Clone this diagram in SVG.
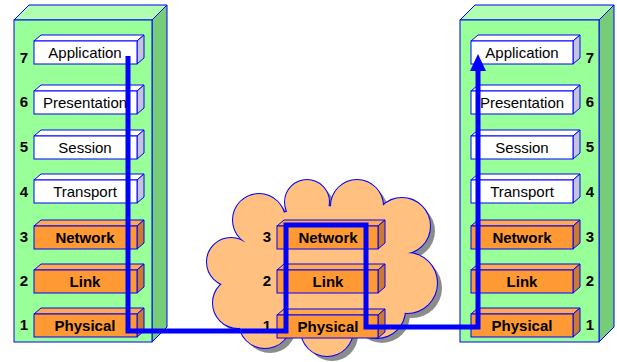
<svg xmlns="http://www.w3.org/2000/svg" width="617" height="362" viewBox="0 0 617 362">
<style>
.st{stroke:#0000FF;stroke-width:1}
.sf{fill:#99FF99}.stop{fill:#B0FFB0}.sside{fill:#77CC77}
.wf{fill:#FFFFFF}.wtop{fill:#FFFFFF}.wside{fill:#C4C4DC}
.of{fill:#FF9933}.otop{fill:#FFAA4C}.oside{fill:#CC7A2E}
.lbl{font-family:"Liberation Sans",Arial,sans-serif;font-size:15px;fill:#000;text-anchor:middle}
.b{font-weight:bold}
.num{font-family:"Liberation Sans",Arial,sans-serif;font-size:15px;font-weight:bold;fill:#000;text-anchor:middle}
.path{fill:none;stroke:#0000FF;stroke-width:5;stroke-linejoin:miter}
</style>
<defs>
<g id="cloudShape">
<circle cx="259" cy="220" r="26"/>
<circle cx="307" cy="202" r="22"/>
<circle cx="357" cy="206" r="26"/>
<circle cx="402" cy="226" r="28"/>
<circle cx="407" cy="283" r="30"/>
<circle cx="377" cy="310" r="28"/>
<circle cx="327" cy="330" r="26"/>
<circle cx="265" cy="322" r="26"/>
<circle cx="238" cy="303" r="25"/>
<circle cx="231" cy="262" r="24"/>
<ellipse cx="322" cy="268" rx="85" ry="62"/>
</g>
</defs>

<g id="left-stack">
<polygon class="stop st" points="14,20 29,5 167,5 152,20"/>
<polygon class="sside st" points="152,20 167,5 167,327 152,342"/>
<rect class="sf st" x="14" y="20" width="138" height="322"/>
</g>
<g id="right-stack">
<polygon class="stop st" points="460,20 475,5 614,5 599,20"/>
<polygon class="sside st" points="599,20 614,5 614,327 599,342"/>
<rect class="sf st" x="460" y="20" width="139" height="322"/>
</g>

<g id="cloud">
<g fill="#8C8C8C" transform="translate(5,5)"><use href="#cloudShape"/></g>
<g fill="#FFC080" stroke="#0000FF" stroke-width="2"><use href="#cloudShape"/></g>
<g fill="#FFC080"><use href="#cloudShape"/></g>
</g>

<!-- left layers -->
<g id="L7"><polygon class="wtop st" points="34,41 41,35 144,35 137,41"/><polygon class="wside st" points="137,41 144,35 144,58 137,64"/><rect class="wf st" x="34" y="41" width="103" height="23"/><text class="lbl" x="85" y="58">Application</text><text class="num" x="24" y="63">7</text></g>
<g id="L6"><polygon class="wtop st" points="34,91 41,85 144,85 137,91"/><polygon class="wside st" points="137,91 144,85 144,108 137,114"/><rect class="wf st" x="34" y="91" width="103" height="23"/><text class="lbl" x="85" y="108">Presentation</text><text class="num" x="24" y="107">6</text></g>
<g id="L5"><polygon class="wtop st" points="34,136 41,130 144,130 137,136"/><polygon class="wside st" points="137,136 144,130 144,153 137,159"/><rect class="wf st" x="34" y="136" width="103" height="23"/><text class="lbl" x="85" y="153">Session</text><text class="num" x="24" y="152">5</text></g>
<g id="L4"><polygon class="wtop st" points="34,180 41,174 144,174 137,180"/><polygon class="wside st" points="137,180 144,174 144,197 137,203"/><rect class="wf st" x="34" y="180" width="103" height="23"/><text class="lbl" x="85" y="197">Transport</text><text class="num" x="24" y="197">4</text></g>
<g id="L3"><polygon class="otop st" points="34,226 41,220 144,220 137,226"/><polygon class="oside st" points="137,226 144,220 144,243 137,249"/><rect class="of st" x="34" y="226" width="103" height="23"/><text class="lbl b" x="85" y="243">Network</text><text class="num" x="24" y="242">3</text></g>
<g id="L2"><polygon class="otop st" points="34,270 41,264 144,264 137,270"/><polygon class="oside st" points="137,270 144,264 144,287 137,293"/><rect class="of st" x="34" y="270" width="103" height="23"/><text class="lbl b" x="85" y="287">Link</text><text class="num" x="24" y="286">2</text></g>
<g id="L1"><polygon class="otop st" points="34,314 41,308 144,308 137,314"/><polygon class="oside st" points="137,314 144,308 144,331 137,337"/><rect class="of st" x="34" y="314" width="103" height="23"/><text class="lbl b" x="85" y="331">Physical</text><text class="num" x="24" y="330">1</text></g>

<!-- middle layers -->
<g id="M3"><polygon class="otop st" points="277,226 284,220 385,220 378,226"/><polygon class="oside st" points="378,226 385,220 385,243 378,249"/><rect class="of st" x="277" y="226" width="101" height="23"/><text class="lbl b" x="328" y="243">Network</text><text class="num" x="267" y="242">3</text></g>
<g id="M2"><polygon class="otop st" points="277,270 284,264 385,264 378,270"/><polygon class="oside st" points="378,270 385,264 385,287 378,293"/><rect class="of st" x="277" y="270" width="101" height="23"/><text class="lbl b" x="328" y="287">Link</text><text class="num" x="267" y="286">2</text></g>
<g id="M1"><polygon class="otop st" points="277,315 284,309 385,309 378,315"/><polygon class="oside st" points="378,315 385,309 385,332 378,338"/><rect class="of st" x="277" y="315" width="101" height="23"/><text class="lbl b" x="328" y="332">Physical</text><text class="num" x="267" y="331">1</text></g>

<!-- right layers -->
<g id="R7"><polygon class="wtop st" points="471,41 478,35 580,35 573,41"/><polygon class="wside st" points="573,41 580,35 580,58 573,64"/><rect class="wf st" x="471" y="41" width="102" height="23"/><text class="lbl" x="522" y="58">Application</text><text class="num" x="590" y="63">7</text></g>
<g id="R6"><polygon class="wtop st" points="471,91 478,85 580,85 573,91"/><polygon class="wside st" points="573,91 580,85 580,108 573,114"/><rect class="wf st" x="471" y="91" width="102" height="23"/><text class="lbl" x="522" y="108">Presentation</text><text class="num" x="590" y="107">6</text></g>
<g id="R5"><polygon class="wtop st" points="471,136 478,130 580,130 573,136"/><polygon class="wside st" points="573,136 580,130 580,153 573,159"/><rect class="wf st" x="471" y="136" width="102" height="23"/><text class="lbl" x="522" y="153">Session</text><text class="num" x="590" y="152">5</text></g>
<g id="R4"><polygon class="wtop st" points="471,180 478,174 580,174 573,180"/><polygon class="wside st" points="573,180 580,174 580,197 573,203"/><rect class="wf st" x="471" y="180" width="102" height="23"/><text class="lbl" x="522" y="197">Transport</text><text class="num" x="590" y="197">4</text></g>
<g id="R3"><polygon class="otop st" points="471,226 478,220 580,220 573,226"/><polygon class="oside st" points="573,226 580,220 580,243 573,249"/><rect class="of st" x="471" y="226" width="102" height="23"/><text class="lbl b" x="522" y="243">Network</text><text class="num" x="590" y="242">3</text></g>
<g id="R2"><polygon class="otop st" points="471,270 478,264 580,264 573,270"/><polygon class="oside st" points="573,270 580,264 580,287 573,293"/><rect class="of st" x="471" y="270" width="102" height="23"/><text class="lbl b" x="522" y="287">Link</text><text class="num" x="590" y="286">2</text></g>
<g id="R1"><polygon class="otop st" points="471,314 478,308 580,308 573,314"/><polygon class="oside st" points="573,314 580,308 580,331 573,337"/><rect class="of st" x="471" y="314" width="102" height="23"/><text class="lbl b" x="522" y="331">Physical</text><text class="num" x="590" y="330">1</text></g>

<g id="connectors">
<path class="path" d="M128,56 V331 H286 V225 H366 V327 H478 V68"/>
<polygon fill="#0000FF" points="478,54 470,71 486,71"/>
</g>
</svg>
